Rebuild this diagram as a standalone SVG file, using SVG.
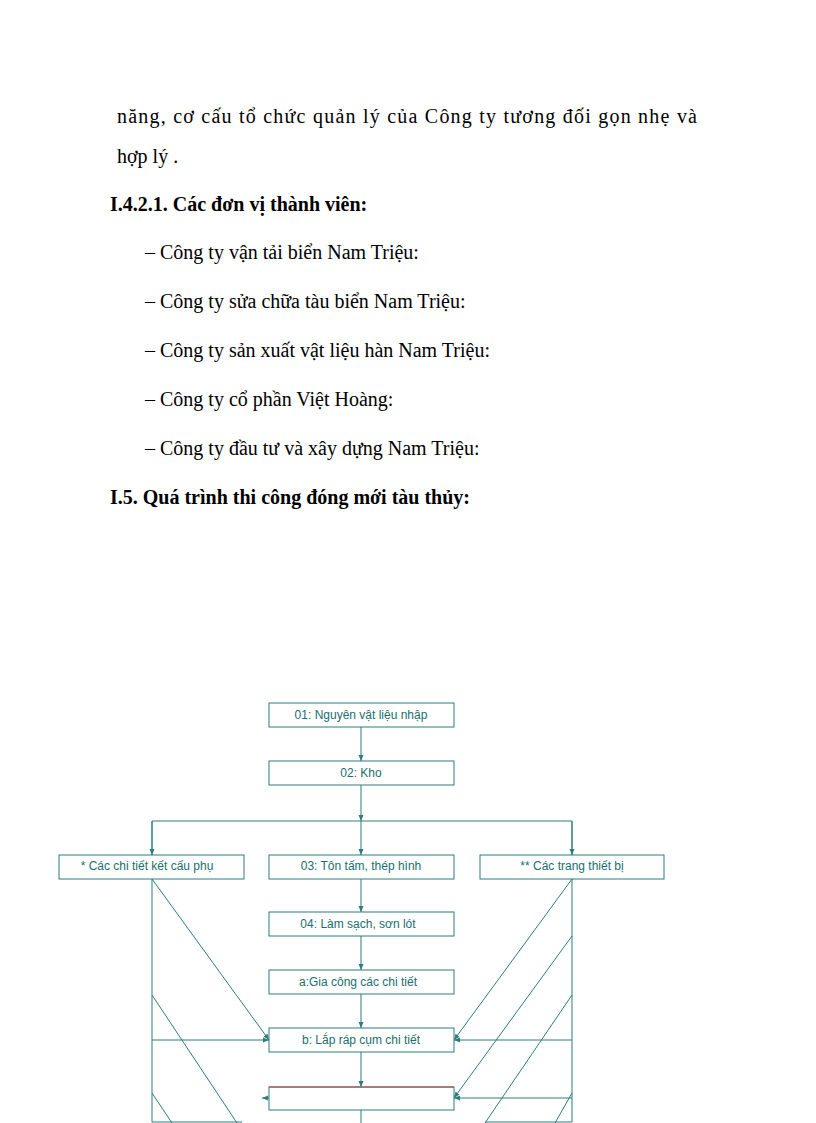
<svg xmlns="http://www.w3.org/2000/svg" width="816" height="1123" viewBox="0 0 816 1123">
<style>
.t{font-family:"Liberation Serif",serif;font-size:20px;fill:#000}
.b{font-weight:bold}
.n rect{fill:#fff;stroke:#2d7d7d;stroke-width:1}
.n text{font-family:"Liberation Sans",Arial,sans-serif;font-size:12px;fill:#1a6e6e;text-anchor:middle}
.c{stroke:#2d7d7d;stroke-width:1;fill:none}
</style>
<defs><marker id="a" markerWidth="6" markerHeight="6" refX="6" refY="3" orient="auto" markerUnits="userSpaceOnUse"><path d="M0,0.5 L6,3 L0,5.5z" fill="#2d7d7d"/></marker></defs>
<rect width="816" height="1123" fill="#fff"/>
<text class="t" x="117" y="123" textLength="580" lengthAdjust="spacing">năng, cơ cấu tổ chức quản lý của Công ty tương đối gọn nhẹ và</text>
<text class="t" x="117" y="163">hợp lý .</text>
<text class="t b" x="110" y="211">I.4.2.1. Các đơn vị thành viên:</text>
<g class="t">
<text x="145" y="259">–   Công ty vận tải biển Nam Triệu:</text>
<text x="145" y="308">–   Công ty sửa chữa tàu biển Nam Triệu:</text>
<text x="145" y="357">–   Công ty sản xuất vật liệu hàn Nam Triệu:</text>
<text x="145" y="406">–   Công ty cổ phần Việt Hoàng:</text>
<text x="145" y="455">–   Công ty đầu tư và xây dựng Nam Triệu:</text>
</g>
<text class="t b" x="110" y="504">I.5. Quá trình thi công đóng mới tàu thủy:</text>
<g id="connectors">
<path class="c" d="M361,727 V761" marker-end="url(#a)"/>
<path class="c" d="M361,785 V821" marker-end="url(#a)"/>
<path class="c" d="M152,855 V821 H572 V855" />
<path class="c" d="M152,821 V855" marker-end="url(#a)"/>
<path class="c" d="M572,821 V855" marker-end="url(#a)"/>
<path class="c" d="M361,821 V855" marker-end="url(#a)"/>
<path class="c" d="M361,879 V912" marker-end="url(#a)"/>
<path class="c" d="M361,936 V970" marker-end="url(#a)"/>
<path class="c" d="M361,994 V1028" marker-end="url(#a)"/>
<path class="c" d="M361,1052 V1087" marker-end="url(#a)"/>
<path class="c" d="M361,1110 V1123"/>
<path class="c" d="M152,879 V1122 H242"/>
<path class="c" d="M152,879 L269,1040" marker-end="url(#a)"/>
<path class="c" d="M152,1040 H269" marker-end="url(#a)"/>
<path class="c" d="M152,995 L237,1123"/>
<path class="c" d="M152,1093 L172,1123"/>
<path class="c" d="M269,1098 H262" marker-end="url(#a)"/>
<path class="c" d="M572,879 V1122 H485"/>
<path class="c" d="M572,879 L454,1040" marker-end="url(#a)"/>
<path class="c" d="M572,936 L454,1098" marker-end="url(#a)"/>
<path class="c" d="M572,995 L485,1123"/>
<path class="c" d="M572,1093 L555,1123"/>
<path class="c" d="M572,1040 H454" marker-end="url(#a)"/>
<path class="c" d="M572,1098 H454" marker-end="url(#a)"/>
</g>
<g id="n1" class="n"><rect x="269" y="703" width="185" height="24"/><text x="361" y="719">01: Nguyên vật liệu nhập</text></g>
<g id="n2" class="n"><rect x="269" y="761" width="185" height="24"/><text x="361" y="777">02: Kho</text></g>
<g id="nl" class="n"><rect x="59" y="855" width="185" height="24"/><text x="147" y="870">* Các chi tiết kết cấu phụ</text></g>
<g id="n3" class="n"><rect x="269" y="855" width="185" height="24"/><text x="361" y="870">03: Tôn tấm, thép hình</text></g>
<g id="nr" class="n"><rect x="480" y="855" width="184" height="24"/><text x="572" y="870">** Các trang thiết bị</text></g>
<g id="n4" class="n"><rect x="269" y="912" width="185" height="24"/><text x="358" y="928">04: Làm sạch, sơn lót</text></g>
<g id="na" class="n"><rect x="269" y="970" width="185" height="24"/><text x="358" y="986">a:Gia công các chi tiết</text></g>
<g id="nb" class="n"><rect x="269" y="1028" width="185" height="24"/><text x="361" y="1044">b: Lắp ráp cụm chi tiết</text></g>
<g id="nc" class="n"><rect x="269" y="1087" width="185" height="23"/><path d="M269,1087 H454" stroke="#b04040" stroke-width="1"/></g>
</svg>
